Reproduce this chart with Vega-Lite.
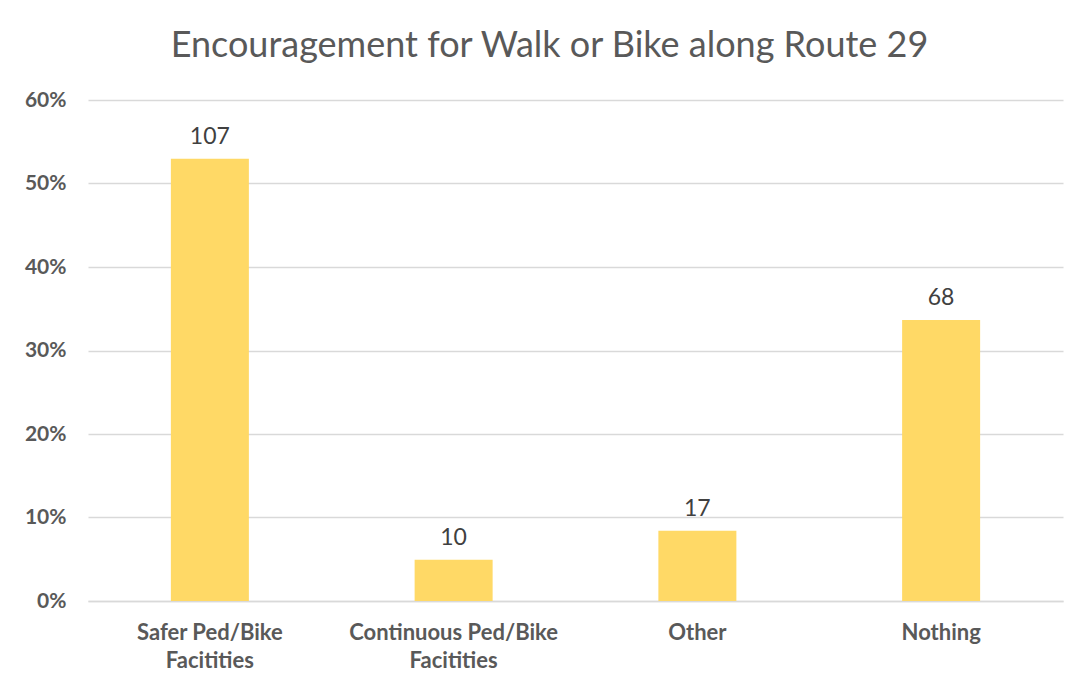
{
  "$schema": "https://vega.github.io/schema/vega-lite/v6.json",
  "autosize": "none",
  "width": 975,
  "height": 501,
  "padding": {"left": 88, "top": 100, "right": 9, "bottom": 86},
  "background": "white",
  "title": {
    "text": "Encouragement for Walk or Bike along Route 29",
    "font": "Lato",
    "fontSize": 36,
    "fontWeight": "normal",
    "color": "#595959",
    "anchor": "middle",
    "baseline": "alphabetic",
    "offset": -4,
    "dx": -26
  },
  "data": {
    "values": [
      {"category": "Safer Ped/Bike Facitities", "count": 107, "share": 0.5297},
      {"category": "Continuous Ped/Bike Facitities", "count": 10, "share": 0.0495},
      {"category": "Other", "count": 17, "share": 0.0842},
      {"category": "Nothing", "count": 68, "share": 0.3366}
    ]
  },
  "encoding": {
    "x": {
      "field": "category",
      "type": "nominal",
      "sort": null,
      "scale": {"paddingInner": 0.68, "paddingOuter": 0.34},
      "axis": {
        "title": null,
        "labelAngle": 0,
        "labelFont": "Lato",
        "labelFontSize": 22,
        "labelFontWeight": "bold",
        "labelColor": "#595959",
        "labelPadding": 21,
        "labelLineHeight": 28,
        "labelLimit": 400,
        "ticks": false,
        "domainColor": "#d9d9d9",
        "domainWidth": 1.5,
        "labelExpr": "indexof(datum.label, 'Ped/Bike ') >= 0 ? [slice(datum.label, 0, indexof(datum.label, 'Ped/Bike ') + 8), slice(datum.label, indexof(datum.label, 'Ped/Bike ') + 9)] : datum.label"
      }
    },
    "y": {
      "field": "share",
      "type": "quantitative",
      "scale": {"domain": [0, 0.6], "nice": false},
      "axis": {
        "title": null,
        "format": ".0%",
        "values": [0, 0.1, 0.2, 0.3, 0.4, 0.5, 0.6],
        "labelFont": "Lato",
        "labelFontSize": 21,
        "labelFontWeight": "bold",
        "labelColor": "#595959",
        "labelPadding": 22,
        "ticks": false,
        "domain": false,
        "gridColor": "#d9d9d9",
        "gridWidth": 1.5
      }
    }
  },
  "layer": [
    {"mark": {"type": "bar", "color": "#FFD966"}},
    {
      "mark": {
        "type": "text",
        "font": "Lato",
        "fontSize": 23,
        "color": "#404040",
        "baseline": "alphabetic",
        "dy": -15
      },
      "encoding": {"text": {"field": "count", "type": "quantitative"}}
    }
  ],
  "config": {"view": {"stroke": null}}
}
